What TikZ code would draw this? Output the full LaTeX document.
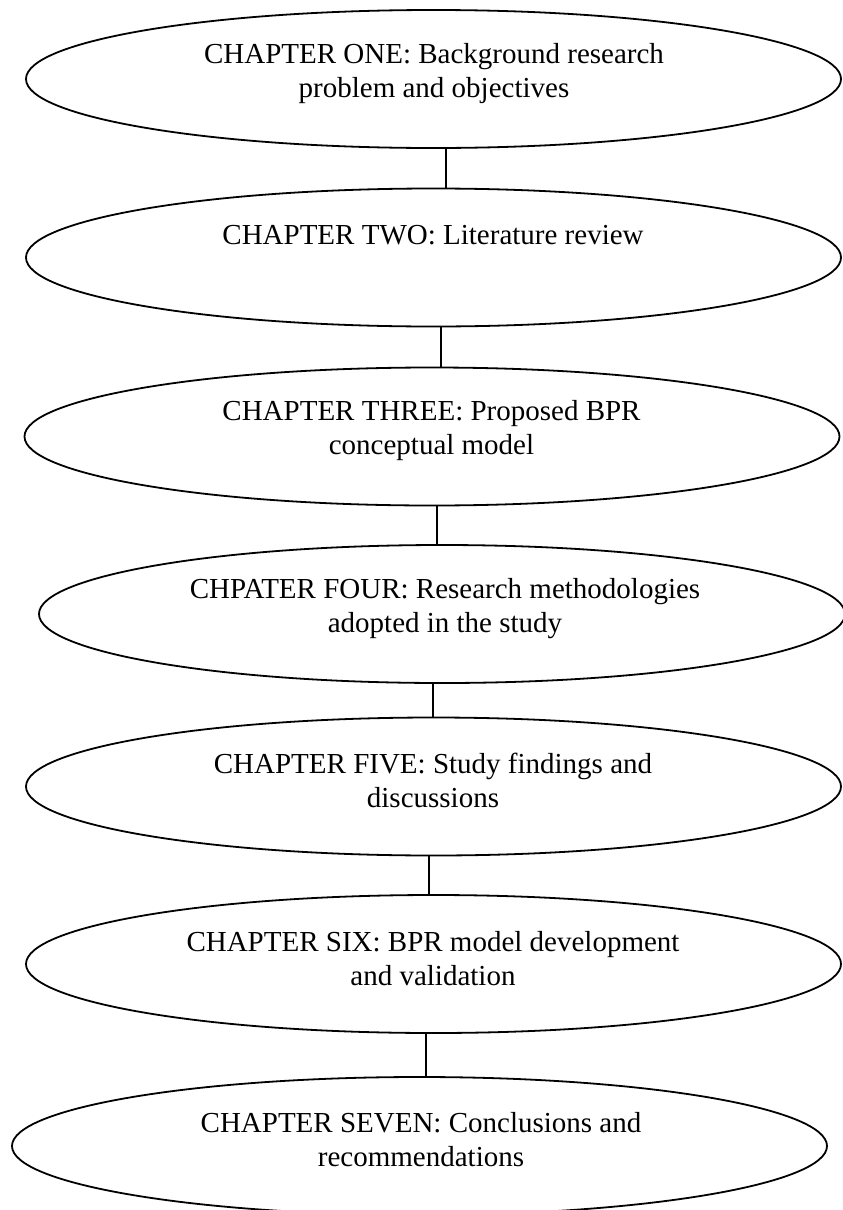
\documentclass[tikz,border=0pt]{standalone}
\usepackage{fontspec}
\setmainfont{Liberation Serif}
\usetikzlibrary{shapes.geometric}
\begin{document}
\begin{tikzpicture}[x=1pt,y=-1pt,
  chap/.style={draw=black,line width=1.8pt,ellipse,inner sep=0pt,outer sep=0pt,
    minimum width=815pt,minimum height=138pt},
  lbl/.style={align=center,inner sep=0pt,font=\fontsize{29}{34}\selectfont},
  link/.style={draw=black,line width=1.4pt}]
\useasboundingbox (0,0) rectangle (843,1210);
% chapter ellipses
\node[chap] (c1) at (433.5,79) {};
\node[chap] (c2) at (433.5,257.5) {};
\node[chap] (c3) at (432,436.5) {};
\node[chap,minimum width=806pt] (c4) at (442,614) {};
\node[chap] (c5) at (433.5,786.5) {};
\node[chap] (c6) at (433.5,964) {};
\node[chap] (c7) at (419.5,1146) {};
% chapter titles
\node[lbl] (t1) at (434,73.5) {CHAPTER ONE: Background research\\problem and objectives};
\node[lbl] (t2) at (433,235) {CHAPTER TWO: Literature review};
\node[lbl] (t3) at (431.5,430.5) {CHAPTER THREE: Proposed BPR\\conceptual model};
\node[lbl] (t4) at (445,608.5) {CHPATER FOUR: Research methodologies\\adopted in the study};
\node[lbl] (t5) at (433,780.5) {CHAPTER FIVE: Study findings and\\discussions};
\node[lbl] (t6) at (433,958.5) {CHAPTER SIX: BPR model development\\and validation};
\node[lbl] (t7) at (421,1139.5) {CHAPTER SEVEN: Conclusions and\\recommendations};
% links between chapters
\draw[link] ([xshift=12.5pt]c1.south) -- ([xshift=12.5pt]c2.north);
\draw[link] ([xshift=7.5pt]c2.south) -- ([xshift=9pt]c3.north);
\draw[link] ([xshift=5pt]c3.south) -- ([xshift=-5pt]c4.north);
\draw[link] ([xshift=-9pt]c4.south) -- ([xshift=-0.5pt]c5.north);
\draw[link] ([xshift=-4.5pt]c5.south) -- ([xshift=-4.5pt]c6.north);
\draw[link] ([xshift=-7.5pt]c6.south) -- ([xshift=6.5pt]c7.north);
\end{tikzpicture}
\end{document}
